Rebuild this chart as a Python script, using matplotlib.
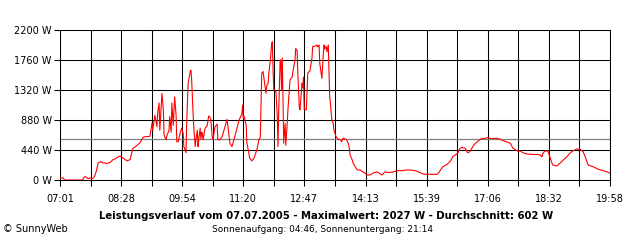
import numpy as np
import matplotlib
matplotlib.use("Agg")
import matplotlib.pyplot as plt

# power readings, minutes after 07:01 and watts
minutes = [
    0, 5, 6, 32, 34, 36, 38, 40, 43, 46, 48, 49, 51, 54, 57, 61, 64, 66, 71, 75,
    78, 82, 85, 88, 92, 95, 99, 103, 107, 110, 113, 117, 120, 127, 130, 131, 134, 137, 138, 140,
    141, 144, 146, 147, 150, 151, 154, 155, 157, 158, 160, 161, 162, 164, 165, 167, 170, 172, 174, 175,
    178, 179, 181, 184, 185, 186, 188, 189, 191, 192, 194, 195, 196, 198, 199, 200, 201, 202, 205, 208,
    210, 213, 215, 216, 219, 222, 223, 226, 229, 233, 236, 237, 240, 243, 246, 250, 253, 257, 258, 259,
    260, 263, 264, 266, 268, 271, 274, 278, 281, 283, 284, 285, 287, 288, 291, 292, 294, 295, 297, 298,
    299, 300, 301, 302, 305, 307, 308, 309, 311, 312, 313, 314, 315, 316, 318, 319, 321, 322, 325, 328,
    329, 332, 333, 335, 336, 338, 339, 342, 343, 344, 345, 348, 349, 350, 353, 356, 357, 360, 363, 364,
    366, 367, 370, 372, 373, 374, 376, 377, 379, 380, 381, 382, 384, 386, 387, 390, 393, 396, 398, 400,
    403, 405, 408, 410, 413, 414, 417, 420, 424, 428, 434, 438, 442, 448, 451, 455, 459, 463, 470, 476,
    483, 490, 494, 502, 509, 513, 518, 533, 534, 541, 547, 551, 555, 561, 562, 565, 568, 569, 572, 575,
    576, 579, 582, 586, 591, 596, 600, 605, 607, 612, 617, 622, 626, 631, 636, 640, 646, 650, 654, 660,
    667, 674, 678, 681, 682, 685, 689, 692, 696, 702, 706, 711, 716, 720, 725, 730, 735, 739, 742, 746,
    753, 760, 767, 773, 777,
]
watts = [
    30, 30, 0, 0, 40, 50, 30, 20, 30, 20, 40, 60, 120, 250, 270, 250, 250, 240, 260, 300,
    310, 340, 350, 330, 300, 280, 300, 465, 490, 520, 545, 620, 635, 640, 835, 730, 950, 780, 990, 1130,
    730, 1270, 1030, 660, 590, 650, 730, 930, 700, 1130, 800, 1000, 1220, 950, 560, 560, 700, 760, 680, 490,
    400, 830, 1420, 1590, 1610, 1470, 980, 780, 490, 590, 730, 490, 590, 760, 600, 700, 690, 590, 760, 800,
    940, 900, 635, 590, 780, 820, 590, 590, 635, 780, 890, 800, 540, 490, 600, 760, 880, 970, 1100, 900,
    940, 800, 540, 440, 320, 280, 320, 440, 590, 630, 1100, 1570, 1590, 1500, 1270, 1380, 1420, 1570, 1740, 1860,
    2000, 2027, 1610, 1320, 1300, 930, 490, 1030, 1760, 1760, 1320, 1790, 1220, 540, 830, 510, 830, 1030, 1470, 1510,
    1590, 1760, 1930, 1900, 1570, 1075, 1030, 1420, 1350, 1510, 1030, 1030, 1300, 1570, 1600, 1790, 1960, 1960, 1980, 1950,
    1980, 1710, 1490, 1860, 1980, 1920, 1960, 1880, 1980, 1610, 1220, 1130, 880, 830, 730, 635, 600, 590, 560, 615,
    600, 590, 510, 365, 290, 250, 195, 147, 147, 120, 73, 73, 100, 120, 100, 73, 120, 110, 115, 137,
    137, 147, 147, 137, 107, 88, 83, 83, 95, 196, 230, 270, 340, 390, 395, 465, 480, 470, 470, 415,
    400, 415, 470, 530, 575, 610, 610, 625, 610, 610, 610, 600, 575, 560, 540, 465, 425, 425, 400, 380,
    375, 375, 367, 340, 390, 425, 425, 340, 220, 205, 245, 293, 340, 390, 430, 455, 450, 415, 340, 220,
    195, 160, 137, 120, 98,
]

tick_labels = ["07:01", "08:28", "09:54", "11:20", "12:47",
               "14:13", "15:39", "17:06", "18:32", "19:58"]
y_ticks = [0, 440, 880, 1320, 1760, 2200]
average = 602
title = "Leistungsverlauf vom 07.07.2005 - Maximalwert: 2027 W - Durchschnitt: 602 W"
subtitle = "Sonnenaufgang: 04:46, Sonnenuntergang: 21:14"

fig = plt.figure(figsize=(6.4, 2.4), dpi=100)
ax = fig.add_axes([60 / 640, 60 / 240, 550 / 640, 150 / 240])

span = minutes[-1]
major = np.linspace(0, span, len(tick_labels))
minor = np.linspace(0, span, 2 * len(tick_labels) - 1)

ax.set_xlim(0, span)
ax.set_ylim(0, 2200)

# grid: every half tick vertically, every 440 W horizontally
for x in minor:
    ax.axvline(x, color="black", linewidth=0.75, zorder=1)
for y in y_ticks:
    ax.axhline(y, color="black", linewidth=0.75, zorder=1)

ax.axhline(average, color="#808080", linewidth=0.9, zorder=2)
ax.plot(minutes, watts, color="#ff0000", linewidth=0.8, zorder=3)

ax.set_xticks(major)
ax.set_xticklabels(tick_labels)
ax.set_xticks(minor, minor=True)
ax.set_yticks(y_ticks)
ax.set_yticklabels([f"{v} W" for v in y_ticks])

ax.tick_params(axis="both", which="both", direction="out", color="black",
               width=0.75, labelsize=7)
ax.tick_params(axis="x", which="both", length=4, pad=6)
ax.tick_params(axis="y", length=4, pad=2)

for spine in ax.spines.values():
    spine.set_linewidth(0.75)

fig.text(0.51, 1 - 216 / 240, title, ha="center", va="center",
         fontsize=7.3, fontweight="bold")
fig.text(0.504, 1 - 229 / 240, subtitle, ha="center", va="center", fontsize=6.5)
fig.text(0.005, 1 - 229 / 240, "© SunnyWeb", ha="left", va="center", fontsize=7)

fig.savefig("out.png", dpi=100, facecolor="white")
